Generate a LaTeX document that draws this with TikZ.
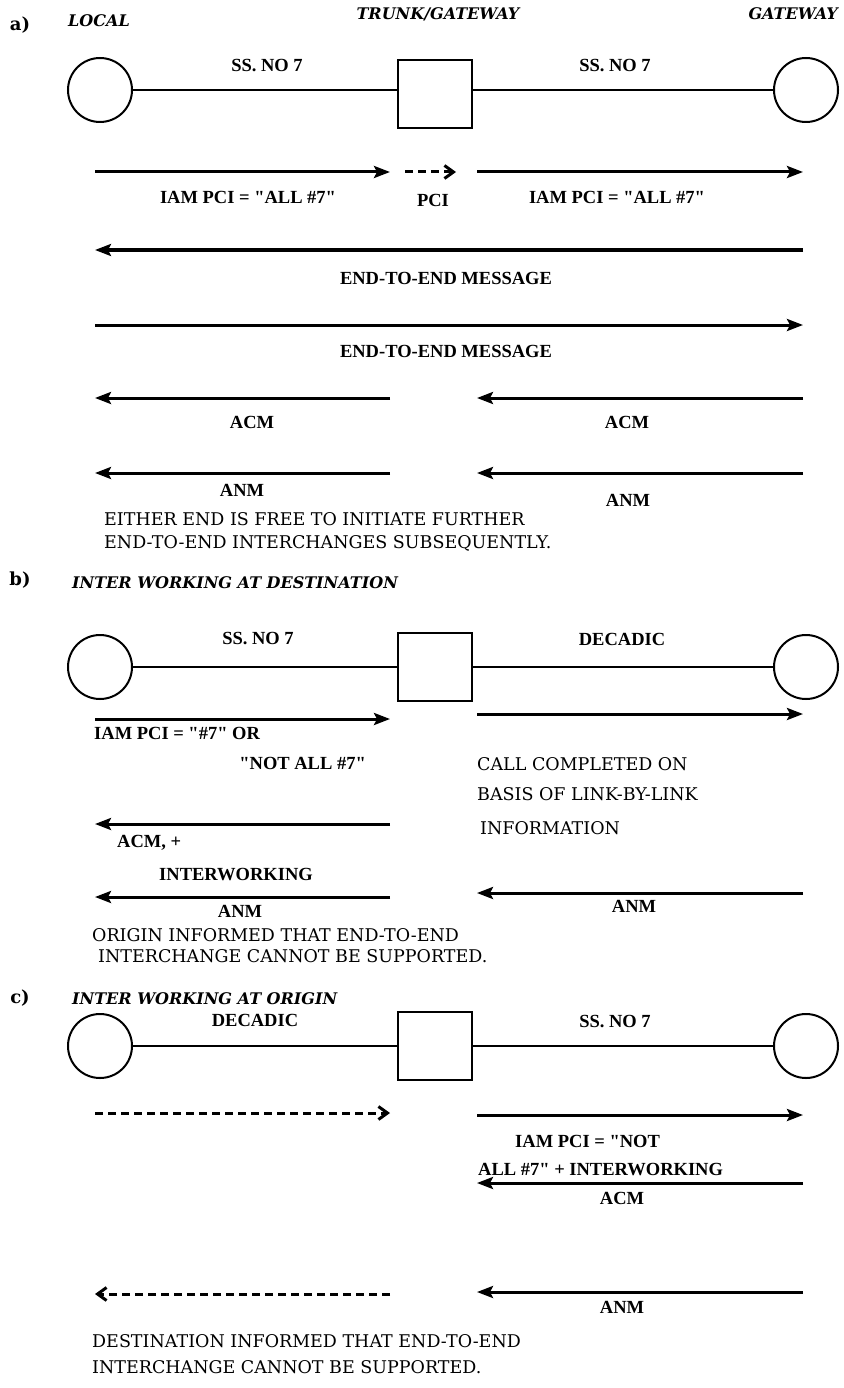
\documentclass[tikz,border=0pt]{standalone}
\usepackage{fontspec}
\setmainfont{Liberation Serif}[Ligatures=TeXOff]
\newfontfamily\dvs{DejaVu Serif}[Ligatures=TeXOff]
\usetikzlibrary{arrows.meta}
\tikzset{
  exch/.style={circle,draw,line width=2pt,minimum size=64pt,inner sep=0pt},
  sq/.style={rectangle,draw,line width=2pt,minimum width=74pt,minimum height=68pt,inner sep=0pt},
  link/.style={line width=2pt},
  msg/.style={line width=3pt,-{Stealth[length=16pt,width=12pt,inset=3pt]}},
  dmsg/.style={line width=3pt,dash pattern=on 8pt off 5pt,-{Straight Barb[length=9pt,width=13pt,line width=3pt]}},
  lbl/.style={font=\fontsize{18.5}{20}\selectfont\bfseries,inner sep=0pt},
  txt/.style={font=\dvs\fontsize{17.5}{19}\selectfont,inner sep=0pt,anchor=west},
  hdr/.style={font=\dvs\fontsize{16}{18}\selectfont\bfseries\itshape,inner sep=0pt},
  tag/.style={font=\dvs\fontsize{18}{20}\selectfont\bfseries,inner sep=0pt}
}
\begin{document}
\begin{tikzpicture}[x=1pt,y=-1pt]
\useasboundingbox (0,0) rectangle (843,1388);
% ---------------- a) ----------------
\node[tag] (ta) at (20,25) {a)};
\node[hdr,anchor=west] (h1) at (68,21) {LOCAL};
\node[hdr] (h2) at (438,14) {TRUNK/GATEWAY};
\node[hdr,anchor=east] (h3) at (838,14) {GATEWAY};
\node[exch] (aL) at (100,90) {};
\node[sq] (aM) at (435,94) {};
\node[exch] (aR) at (806,90) {};
\draw[link] (aL) -- (aM.west |- aL);
\draw[link] (aM.east |- aR) -- (aR);
\node[lbl] (as1) at (267,66) {SS. NO 7};
\node[lbl] (as2) at (615,66) {SS. NO 7};

\draw[msg] (95,172) coordinate (a1s) -- (390,172) coordinate (a1e);
\draw[dmsg] (405,172) coordinate (a2s) -- (456,172) coordinate (a2e);
\draw[msg] (477,172) coordinate (a3s) -- (803,172) coordinate (a3e);
\node[lbl] (a1l) at (248,197) {IAM PCI = "ALL \#7"};
\node[lbl] (a2l) at (433,200) {PCI};
\node[lbl] (a3l) at (617,197) {IAM PCI = "ALL \#7"};

\draw[msg] (803,250) coordinate (a4s) -- (95,250) coordinate (a4e);
\node[lbl] (a4l) at (446,278) {END-TO-END MESSAGE};
\draw[msg] (95,325) coordinate (a5s) -- (803,325) coordinate (a5e);
\node[lbl] (a5l) at (446,351) {END-TO-END MESSAGE};

\draw[msg] (390,398) coordinate (a6s) -- (95,398) coordinate (a6e);
\draw[msg] (803,398) coordinate (a7s) -- (477,398) coordinate (a7e);
\node[lbl] (a6l) at (252,422) {ACM};
\node[lbl] (a7l) at (627,422) {ACM};
\draw[msg] (390,473) coordinate (a8s) -- (95,473) coordinate (a8e);
\draw[msg] (803,473) coordinate (a9s) -- (477,473) coordinate (a9e);
\node[lbl] (a8l) at (242,490) {ANM};
\node[lbl] (a9l) at (628,500) {ANM};
\node[txt] (an1) at (104,519) {EITHER END IS FREE TO INITIATE FURTHER};
\node[txt] (an2) at (104,543) {END-TO-END INTERCHANGES SUBSEQUENTLY.};

% ---------------- b) ----------------
\node[tag] (tb) at (20,580) {b)};
\node[hdr,anchor=west] (hb) at (72,583) {INTER WORKING AT DESTINATION};
\node[exch] (bL) at (100,667) {};
\node[sq] (bM) at (435,667) {};
\node[exch] (bR) at (806,667) {};
\draw[link] (bL) -- (bM);
\draw[link] (bM) -- (bR);
\node[lbl] (bs1) at (258,639) {SS. NO 7};
\node[lbl] (bs2) at (622,639) {DECADIC};

\draw[msg] (95,719) coordinate (b1s) -- (390,719) coordinate (b1e);
\draw[msg] (477,714) coordinate (b2s) -- (803,714) coordinate (b2e);
\node[lbl,anchor=west] (b1l) at (94,733) {IAM PCI = "\#7" OR};
\node[lbl,anchor=east] (b1m) at (366,763) {"NOT ALL \#7"};
\node[txt] (b2a) at (477,764) {CALL COMPLETED ON};
\node[txt] (b2b) at (477,794) {BASIS OF LINK-BY-LINK};
\node[txt] (b2c) at (480,828) {INFORMATION};

\draw[msg] (390,824) coordinate (b3s) -- (95,824) coordinate (b3e);
\node[lbl,anchor=west] (b3l) at (117,843) {ACM, +};
\node[lbl] (b3m) at (236,875) {INTERWORKING};
\draw[msg] (390,897) coordinate (b4s) -- (95,897) coordinate (b4e);
\draw[msg] (803,893) coordinate (b5s) -- (477,893) coordinate (b5e);
\node[lbl] (b4l) at (240,911) {ANM};
\node[lbl] (b5l) at (634,906) {ANM};
\node[txt] (bn1) at (92,935) {ORIGIN INFORMED THAT END-TO-END};
\node[txt] (bn2) at (98,956) {INTERCHANGE CANNOT BE SUPPORTED.};

% ---------------- c) ----------------
\node[tag] (tc) at (20,998) {c)};
\node[hdr,anchor=west] (hc) at (72,999) {INTER WORKING AT ORIGIN};
\node[exch] (cL) at (100,1046) {};
\node[sq] (cM) at (435,1046) {};
\node[exch] (cR) at (806,1046) {};
\draw[link] (cL) -- (cM);
\draw[link] (cM) -- (cR);
\node[lbl] (cs1) at (255,1020) {DECADIC};
\node[lbl] (cs2) at (615,1021) {SS. NO 7};

\draw[dmsg] (95,1113) coordinate (c1s) -- (390,1113) coordinate (c1e);
\draw[msg] (477,1115) coordinate (c2s) -- (803,1115) coordinate (c2e);
\node[lbl,anchor=west] (c2l) at (515,1141) {IAM PCI = "NOT};
\node[lbl,anchor=west] (c2m) at (478,1170) {ALL \#7" + INTERWORKING};
\draw[msg] (803,1183) coordinate (c3s) -- (477,1183) coordinate (c3e);
\node[lbl] (c3l) at (622,1198) {ACM};
\draw[dmsg] (390,1294) coordinate (c4s) -- (95,1294) coordinate (c4e);
\draw[msg] (803,1292) coordinate (c5s) -- (477,1292) coordinate (c5e);
\node[lbl] (c5l) at (622,1307) {ANM};
\node[txt] (cn1) at (92,1341) {DESTINATION INFORMED THAT END-TO-END};
\node[txt] (cn2) at (92,1367) {INTERCHANGE CANNOT BE SUPPORTED.};
\end{tikzpicture}
\end{document}
